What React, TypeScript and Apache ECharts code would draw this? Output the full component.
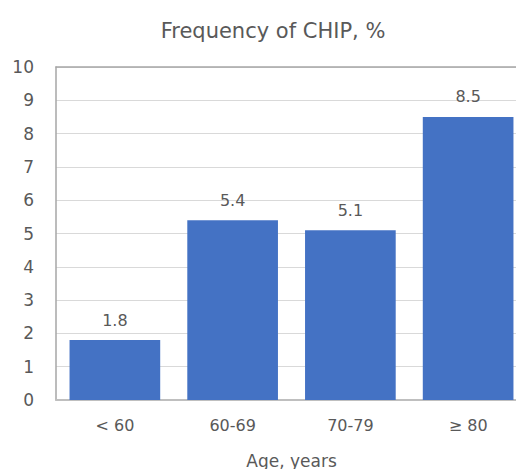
import React, { useEffect, useRef } from "react";
import * as echarts from "echarts";

const categories = ["< 60", "60-69", "70-79", "≥ 80"];
const values = [1.8, 5.4, 5.1, 8.5];
const titleText = "Frequency of CHIP, %";
const xName = "Age, years";

const FONT = "'DejaVu Sans', 'Noto Sans', sans-serif";
const GRAY = "#595959";

export default function App() {
  const ref = useRef<HTMLDivElement>(null);
  useEffect(() => {
    if (!ref.current) return;
    const chart = echarts.init(ref.current, null, { renderer: "svg" });
    chart.setOption({
      animation: false,
      backgroundColor: "#ffffff",
      title: {
        text: titleText,
        left: 268,
        textAlign: "center",
        top: 15,
        textStyle: { fontFamily: FONT, fontSize: 21, fontWeight: "normal", color: GRAY },
      },
      grid: {
        left: 56,
        top: 67,
        width: 471,
        height: 333,
        outerBoundsMode: "none",
        containLabel: false,
      },
      xAxis: [
        {
          type: "category",
          data: categories,
          name: xName,
          nameLocation: "middle",
          nameGap: 52,
          nameTextStyle: { fontFamily: FONT, fontSize: 17, color: GRAY },
          axisLine: { lineStyle: { color: "#bfbfbf", width: 2 } },
          axisTick: { show: false },
          axisLabel: { fontFamily: FONT, fontSize: 16, color: GRAY, margin: 17 },
        },
        {
          type: "category",
          data: categories,
          position: "top",
          axisLine: { show: true, lineStyle: { color: "#a6a6a6", width: 1.5 } },
          axisTick: { show: false },
          axisLabel: { show: false },
          splitLine: { show: false },
        },
      ],
      yAxis: {
        type: "value",
        min: 0,
        max: 10,
        interval: 1,
        axisLine: { show: true, lineStyle: { color: "#a6a6a6", width: 1.5 } },
        axisTick: { show: false },
        axisLabel: { fontFamily: FONT, fontSize: 17, color: GRAY, margin: 22 },
        splitLine: { lineStyle: { color: "#d9d9d9", width: 1 } },
      },
      series: [
        {
          type: "bar",
          data: values,
          xAxisIndex: 0,
          barCategoryGap: "23%",
          itemStyle: { color: "#4472C4" },
          label: {
            show: true,
            position: "top",
            distance: 12,
            fontFamily: FONT,
            fontSize: 16,
            color: GRAY,
          },
        },
      ],
    });
    return () => chart.dispose();
  }, []);
  return (
    <div
      ref={ref}
      style={{ position: "fixed", left: 0, top: 0, width: 516, height: 469 }}
    />
  );
}
